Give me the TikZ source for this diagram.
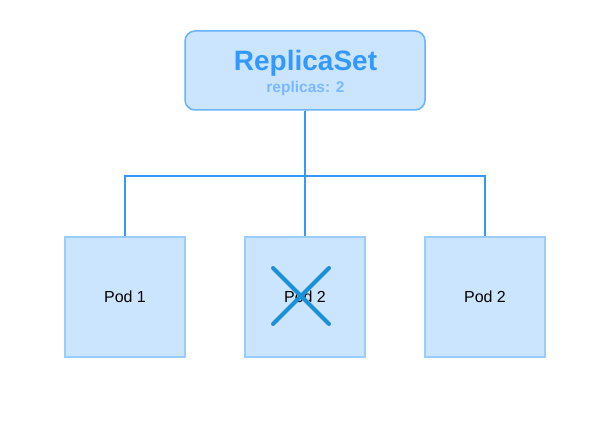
\documentclass[tikz,border=0pt]{standalone}
\usepackage{fontspec}
\setmainfont{Liberation Sans}
\definecolor{boxfill}{HTML}{CCE5FF}
\definecolor{rsstroke}{HTML}{66B2FF}
\definecolor{podstroke}{HTML}{99CCFF}
\definecolor{linec}{HTML}{3399FF}
\definecolor{titlec}{HTML}{3399FF}
\definecolor{subc}{HTML}{7AB8FF}
\definecolor{crossc}{HTML}{1A90D9}
\begin{document}
\begin{tikzpicture}[x=1pt,y=-1pt,
  rsbox/.style={draw=rsstroke,line width=1.5pt,fill=boxfill,rounded corners=10pt,minimum width=240pt,minimum height=79pt,inner sep=0pt},
  podbox/.style={draw=podstroke,line width=1.2pt,fill=boxfill,minimum width=120pt,minimum height=120pt,inner sep=0pt,font=\fontsize{16}{18}\selectfont},
  titletext/.style={font=\fontsize{28}{30}\selectfont\bfseries,text=titlec,inner sep=0pt},
  subtext/.style={font=\fontsize{15.5}{17}\selectfont\bfseries,text=subc,inner sep=0pt},
  conn/.style={draw=linec,line width=1.8pt},
  crossline/.style={draw=crossc,line width=4pt,line cap=round}]
\useasboundingbox (0,0) rectangle (605,425);
\node[rsbox] (rs) at (305,70.5) {};
\node[titletext] (rst) at (305.5,63.5) {ReplicaSet};
\node[subtext] (rss) at (305.5,88.5) {replicas: 2};
\node[podbox] (p1) at (125,297) {Pod 1};
\node[podbox] (p2) at (305,297) {Pod 2};
\node[podbox] (p3) at (485,297) {Pod 2};
\coordinate (j) at (305,176);
\draw[conn] (rs.south) -- (j);
\draw[conn] (p1.north) |- (j) -| (p3.north);
\draw[conn] (j) -- (p2.north);
\coordinate (c1) at (273,268);
\coordinate (c2) at (329,324);
\coordinate (c3) at (329,268);
\coordinate (c4) at (273,324);
\draw[crossline] (c1) -- (c2);
\draw[crossline] (c3) -- (c4);
\end{tikzpicture}
\end{document}
